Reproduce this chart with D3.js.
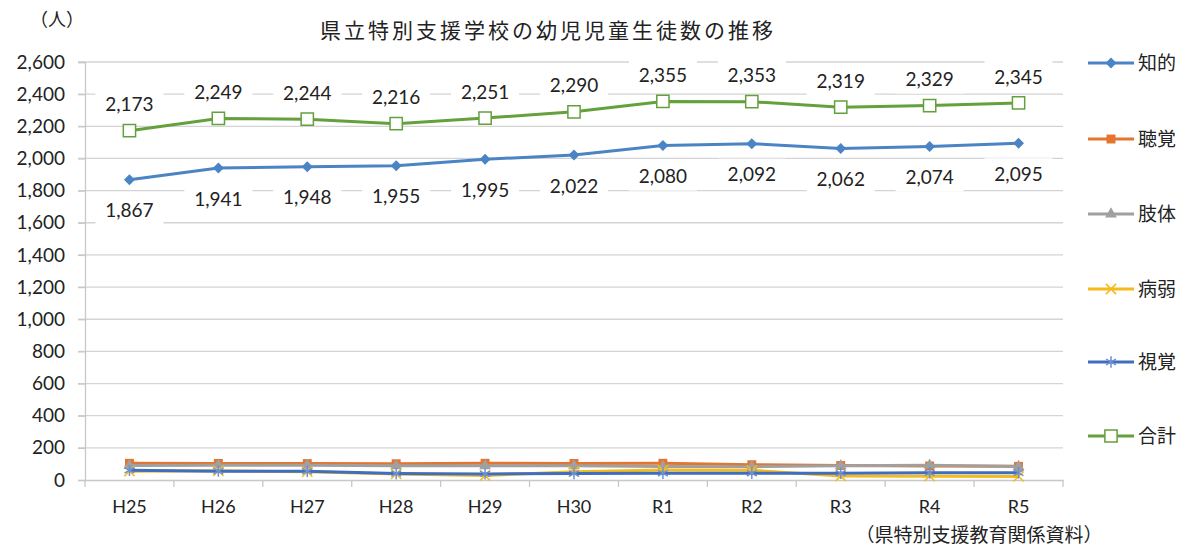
<!DOCTYPE html>
<html><head><meta charset="utf-8">
<script src="https://cdn.jsdelivr.net/npm/d3@7"></script>
<style>
html,body{margin:0;padding:0;background:#fff;}
svg{display:block;}
</style></head>
<body>
<svg id="chart" width="1186" height="547"></svg>
<script>
const categories = ["H25","H26","H27","H28","H29","H30","R1","R2","R3","R4","R5"];
const chiteki = [1867,1941,1948,1955,1995,2022,2080,2092,2062,2074,2095];
const choukaku = [104,103,102,101,104,103,104,95,90,87,85];
const shitai = [90,92,91,88,88,88,84,83,88,92,84];
const byoujaku = [55,57,52,38,28,52,62,60,25,24,22];
const shikaku = [60,55,54,40,38,40,42,42,42,45,45];
const goukei = [2173,2249,2244,2216,2251,2290,2355,2353,2319,2329,2345];
const yTicks = [0,200,400,600,800,1000,1200,1400,1600,1800,2000,2200,2400,2600];

const series = [
  {name:"知的", values:chiteki, color:"#4a84c4", sym:d3.symbolSquare, rot:45, size:60, fill:"#4a84c4", stroke:"none", label:"below"},
  {name:"聴覚", values:choukaku, color:"#e5742e", sym:d3.symbolSquare, rot:0, size:80, fill:"#e5742e", stroke:"none"},
  {name:"肢体", values:shitai, color:"#a0a0a0", sym:d3.symbolTriangle, rot:0, size:60, fill:"#a0a0a0", stroke:"none"},
  {name:"病弱", values:byoujaku, color:"#f5bb1a", sym:d3.symbolTimes, rot:0, size:70, fill:"none", stroke:"#f5bb1a"},
  {name:"視覚", values:shikaku, color:"#3f6dbf", sym:d3.symbolAsterisk, rot:0, size:90, fill:"none", stroke:"#6d8fd0"},
  {name:"合計", values:goukei, color:"#64a03c", sym:d3.symbolSquare, rot:0, size:150, fill:"#ffffff", stroke:"#64a03c", label:"above"}
];

const svg = d3.select("#chart");
const x = d3.scaleBand().domain(categories).range([85,1063]).padding(0);
const y = d3.scaleLinear().domain([0,2600]).range([480,62]);
const cx = c => x(c) + x.bandwidth()/2;
const numFmt = d3.format(",");
const latin = "Lato, 'Liberation Sans', sans-serif";
const jp = "'Noto Sans CJK JP', sans-serif";

// gridlines
svg.append("g").selectAll("line").data(yTicks.filter(t=>t>0)).join("line")
  .attr("x1",78).attr("x2",1063).attr("y1",d=>y(d)).attr("y2",d=>y(d))
  .attr("stroke","#d4d4d4").attr("stroke-width",1.3);

// y axis
const yAxis = svg.append("g").attr("transform","translate(85,0)")
  .call(d3.axisLeft(y).tickValues(yTicks).tickFormat(numFmt).tickSize(7).tickPadding(13));
yAxis.select(".domain").attr("stroke","#c8c8c8").attr("stroke-width",1.3);
yAxis.selectAll(".tick line").attr("stroke","#c8c8c8").attr("stroke-width",1.3);
yAxis.selectAll("text").attr("font-family",latin).attr("font-size","19px").attr("fill","#222");

// x axis
const xAxis = svg.append("g").attr("transform","translate(0,480)")
  .call(d3.axisBottom(x).tickSize(0).tickPadding(20));
xAxis.select(".domain").attr("stroke","#c8c8c8").attr("stroke-width",1.5);
xAxis.selectAll("text").attr("font-family",latin).attr("font-size","18px").attr("fill","#222");
svg.append("g").selectAll("line").data(d3.range(categories.length+1)).join("line")
  .attr("x1",i=>85+i*x.bandwidth()).attr("x2",i=>85+i*x.bandwidth())
  .attr("y1",480).attr("y2",487).attr("stroke","#c8c8c8").attr("stroke-width",1.3);

// lines and markers
const order = [1,2,3,4,0,5];
order.forEach(si=>{
  const s = series[si];
  const line = d3.line().x((d,i)=>cx(categories[i])).y(d=>y(d));
  svg.append("path").datum(s.values).attr("d",line)
    .attr("fill","none").attr("stroke",s.color).attr("stroke-width",3);
  svg.append("g").selectAll("path").data(s.values).join("path")
    .attr("transform",(d,i)=>`translate(${cx(categories[i])},${y(d)}) rotate(${s.rot})`)
    .attr("d",d3.symbol().type(s.sym).size(s.size))
    .attr("fill",s.fill).attr("stroke",s.stroke).attr("stroke-width",s.stroke==="none"?0:1.5);
});

// data labels
[series[0],series[5]].forEach(s=>{
  const g = svg.append("g");
  s.values.forEach((v,i)=>{
    const ly = s.label==="above" ? y(v)-26 : y(v)+31;
    const lx = cx(categories[i]);
    g.append("rect").attr("x",lx-34).attr("y",ly-16).attr("width",68).attr("height",30).attr("fill","#fff");
    g.append("text").attr("x",lx).attr("y",ly).attr("dy","0.35em").attr("text-anchor","middle")
      .attr("font-family",latin).attr("font-size","19px").attr("fill","#222").text(numFmt(v));
  });
});

// title and unit
svg.append("text").attr("x",548).attr("y",31).attr("dy","0.35em").attr("text-anchor","middle")
  .attr("font-family",jp).attr("font-size","21px").attr("letter-spacing","3px").attr("fill","#222")
  .text("県立特別支援学校の幼児児童生徒数の推移");
svg.append("text").attr("x",57).attr("y",20).attr("dy","0.35em").attr("text-anchor","middle")
  .attr("font-family",jp).attr("font-size","18px").attr("fill","#222").text("（人）");

// source
svg.append("text").attr("x",979).attr("y",535).attr("dy","0.35em").attr("text-anchor","middle")
  .attr("font-family",jp).attr("font-size","19px").attr("fill","#222").text("（県特別支援教育関係資料）");

// legend
const legY = [63,139,214,289,362,436];
series.forEach((s,i)=>{
  const g = svg.append("g").attr("transform",`translate(0,${legY[i]})`);
  g.append("line").attr("x1",1088).attr("x2",1134).attr("y1",0).attr("y2",0)
    .attr("stroke",s.color).attr("stroke-width",3);
  g.append("path").attr("transform",`translate(1111,0) rotate(${s.rot})`)
    .attr("d",d3.symbol().type(s.sym).size(s.size))
    .attr("fill",s.fill).attr("stroke",s.stroke).attr("stroke-width",s.stroke==="none"?0:1.5);
  g.append("text").attr("x",1138).attr("y",0).attr("dy","0.35em")
    .attr("font-family",jp).attr("font-size","19px").attr("fill","#222").text(s.name);
});
</script>
</body></html>
